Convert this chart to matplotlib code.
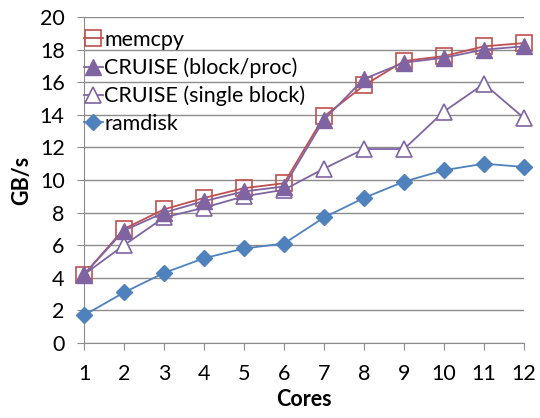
import matplotlib
matplotlib.use("Agg")
import matplotlib.pyplot as plt

cores = [1, 2, 3, 4, 5, 6, 7, 8, 9, 10, 11, 12]
memcpy = [4.2, 7.0, 8.2, 8.9, 9.5, 9.8, 13.9, 15.8, 17.3, 17.6, 18.2, 18.4]
block_proc = [4.2, 6.9, 8.0, 8.7, 9.3, 9.6, 13.7, 16.2, 17.2, 17.5, 18.0, 18.2]
single_block = [4.2, 6.0, 7.7, 8.3, 9.0, 9.4, 10.7, 11.9, 11.9, 14.2, 15.9, 13.8]
ramdisk = [1.7, 3.1, 4.3, 5.2, 5.8, 6.1, 7.7, 8.9, 9.9, 10.6, 11.0, 10.8]
yticks = [0, 2, 4, 6, 8, 10, 12, 14, 16, 18, 20]

plt.rcParams['font.family'] = ['Lato', 'DejaVu Sans']

fig = plt.figure(figsize=(5.4, 4.18), dpi=100)
ax = fig.add_axes([84/540, 1 - 343/418, (524-84)/540, (343-17)/418])

red = '#C0504D'
purple = '#8064A2'
blue = '#4F81BD'

ax.plot(cores, memcpy, color=red, lw=1.3, marker='s', ms=11, mfc='none',
        mec=red, mew=1.2, label='memcpy', clip_on=False, zorder=3)
ax.plot(cores, block_proc, color=purple, lw=1.3, marker='^', ms=11, mfc=purple,
        mec=purple, label='CRUISE (block/proc)', clip_on=False, zorder=4)
ax.plot(cores, single_block, color=purple, lw=1.3, marker='^', ms=11, mfc='white',
        mec=purple, mew=1.2, label='CRUISE (single block)', clip_on=False, zorder=3)
ax.plot(cores, ramdisk, color=blue, lw=1.3, marker='D', ms=8.5, mfc=blue,
        mec=blue, label='ramdisk', clip_on=False, zorder=3)

ax.set_xlim(1, 12)
ax.set_ylim(0, 20)
ax.set_xticks(cores)
ax.set_yticks(yticks)
ax.grid(axis='y', color='#8C8C8C', lw=1)
ax.set_axisbelow(True)
for s in ['top', 'right']:
    ax.spines[s].set_visible(False)
for s in ['left', 'bottom']:
    ax.spines[s].set_color('#8C8C8C')
ax.tick_params(axis='both', colors='#8C8C8C', labelcolor='black', labelsize=15.5,
               length=5)
ax.tick_params(axis='x', pad=10)
ax.tick_params(axis='y', pad=9)
ax.set_xlabel('Cores', fontsize=15.5, fontweight='bold', labelpad=4)
ax.set_ylabel('GB/s', fontsize=15.5, fontweight='bold', labelpad=5)

leg = ax.legend(loc='upper left', bbox_to_anchor=(-0.03, 1.0), frameon=False,
                fontsize=15.5, handlelength=0.9, handletextpad=0.05,
                labelspacing=0.35, borderaxespad=0.2)

fig.savefig('out.png', dpi=100)
